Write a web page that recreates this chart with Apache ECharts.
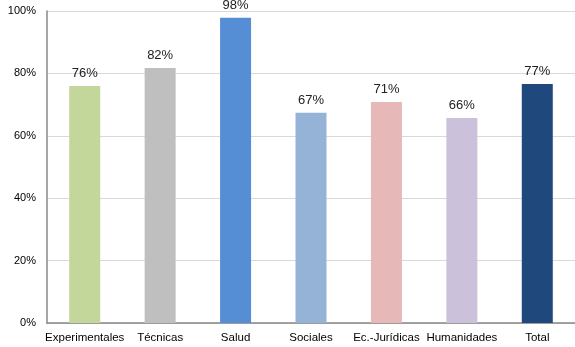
<!DOCTYPE html>
<html><head><meta charset="utf-8">
<script src="https://cdn.jsdelivr.net/npm/echarts@6/dist/echarts.min.js"></script>
<style>html,body{margin:0;padding:0;background:#fff}#c{width:575px;height:347px}</style>
</head><body><div id="c"></div>
<script>
const categories = ['Experimentales','Técnicas','Salud','Sociales','Ec.-Jurídicas','Humanidades','Total'];
const values = [76.0, 81.7, 97.8, 67.4, 70.8, 65.7, 76.6];
const colors = ['#c4d79b','#bfbfbf','#558ed5','#95b3d7','#e6b9b8','#ccc1da','#1f497d'];
const yTicks = [0, 20, 40, 60, 80, 100];

const chart = echarts.init(document.getElementById('c'), null, {renderer:'canvas'});
chart.setOption({
  animation:false,
  grid:{left:47, right:0, top:11, bottom:24},
  xAxis:{type:'category', data:categories,
    axisLine:{lineStyle:{color:'#888', width:1.5}}, axisTick:{show:false},
    axisLabel:{color:'#000', fontFamily:'Liberation Sans, Arial', fontSize:11.5, margin:9, interval:0}},
  yAxis:{type:'value', min:0, max:100, interval:20,
    axisLine:{show:true, lineStyle:{color:'#888', width:1.5}}, axisTick:{show:false},
    splitLine:{lineStyle:{color:'#d9d9d9'}},
    axisLabel:{color:'#000', fontFamily:'Liberation Sans, Arial', fontSize:11, margin:11,
      formatter:v=>yTicks.includes(v)?v+'%':''}},
  series:[{type:'bar', barWidth:31, barCategoryGap:'0%',
    data: values.map((v,i)=>({value:v, itemStyle:{color:colors[i]}})),
    label:{show:true, position:'top', distance:6, color:'#222', fontFamily:'Liberation Sans, Arial', fontSize:13,
      formatter:p=>Math.round(p.value)+'%'}}]
});
</script></body></html>
